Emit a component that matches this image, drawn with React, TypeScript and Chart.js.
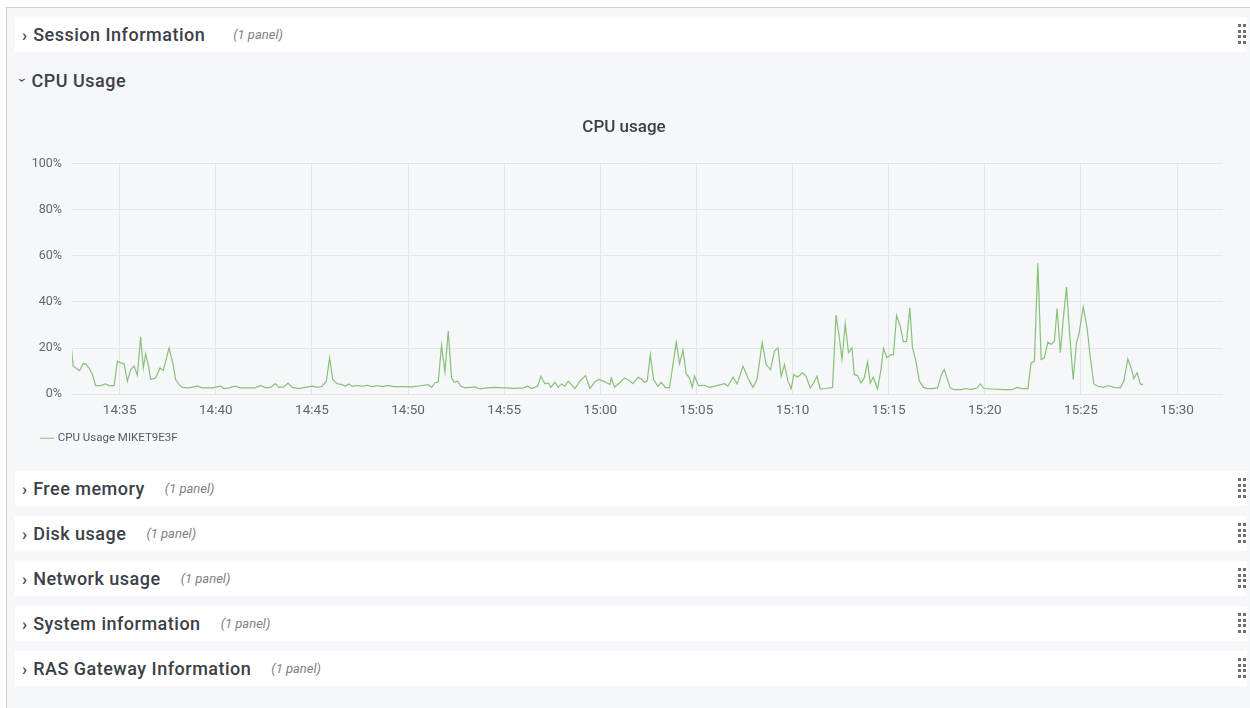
import React, { useEffect, useRef } from "react";
import { Chart, registerables } from "chart.js";

Chart.register(...registerables);

// Time in minutes after 14:00
const times = [
  32.44, 32.58, 32.75, 32.92, 33.1, 33.23, 33.41, 33.58, 33.75, 34.01, 34.27, 34.45, 34.71, 34.88, 35.05, 35.23, 35.4, 35.57, 35.75, 35.92,
  36.09, 36.23, 36.35, 36.49, 36.61, 36.87, 37.1, 37.27, 37.57, 37.78, 37.91, 38.09, 38.26, 38.61, 39.04, 39.3, 39.82, 40.25, 40.43, 40.69,
  41.03, 41.29, 41.54, 42.06, 42.32, 42.58, 42.84, 43.1, 43.27, 43.53, 43.76, 43.97, 44.31, 44.66, 45.01, 45.27, 45.53, 45.75, 45.92, 46.08,
  46.31, 46.57, 46.74, 46.91, 47.09, 47.35, 47.61, 47.87, 48.13, 48.39, 48.65, 48.96, 49.25, 49.69, 50.21, 50.55, 51.05, 51.22, 51.4, 51.57,
  51.74, 51.92, 52.09, 52.26, 52.4, 52.58, 52.75, 52.96, 53.48, 53.74, 54.08, 54.52, 55.04, 55.56, 55.99, 56.22, 56.42, 56.74, 56.91, 57.12,
  57.29, 57.43, 57.64, 57.81, 57.98, 58.16, 58.33, 58.5, 58.68, 58.94, 59.23, 59.46, 59.72, 59.93, 60.24, 60.5, 60.57, 60.74, 61.0, 61.26,
  61.52, 61.7, 61.96, 62.17, 62.3, 62.44, 62.6, 62.77, 63.0, 63.17, 63.38, 63.6, 63.78, 63.95, 64.12, 64.3, 64.47, 64.64, 64.78, 64.9,
  65.11, 65.42, 65.68, 66.12, 66.46, 66.64, 66.9, 67.12, 67.42, 67.68, 67.94, 68.15, 68.42, 68.63, 68.85, 69.06, 69.24, 69.41, 69.58, 69.76,
  69.93, 70.07, 70.26, 70.52, 70.7, 70.92, 71.09, 71.27, 71.44, 71.74, 72.08, 72.26, 72.43, 72.57, 72.74, 72.91, 73.09, 73.21, 73.38, 73.56,
  73.73, 73.9, 74.04, 74.2, 74.42, 74.6, 74.73, 74.91, 75.12, 75.25, 75.41, 75.6, 75.76, 75.93, 76.1, 76.24, 76.42, 76.59, 76.81, 77.02,
  77.28, 77.54, 77.75, 77.89, 78.03, 78.2, 78.41, 78.76, 79.02, 79.28, 79.6, 79.77, 79.95, 80.29, 80.99, 81.42, 81.68, 81.94, 82.24, 82.41,
  82.58, 82.76, 82.93, 83.1, 83.28, 83.45, 83.62, 83.76, 83.93, 84.07, 84.25, 84.42, 84.6, 84.77, 84.89, 85.12, 85.32, 85.49, 85.67, 85.88,
  86.19, 86.41, 86.71, 87.05, 87.23, 87.44, 87.61, 87.75, 87.92, 88.09, 88.23,
];

// CPU usage in percent
const cpuUsage = [
  24.2, 12.2, 11.2, 10.3, 13.3, 13.2, 11.4, 8.6, 3.8, 3.8, 4.5, 3.8, 3.8, 14.3, 13.6, 13.2, 5.7, 10.7, 12.2, 8.3,
  24.8, 11.4, 17.5, 12.6, 6.4, 7.1, 11.4, 10.3, 20.1, 12.9, 6.4, 4.2, 3.0, 2.8, 3.5, 2.8, 2.8, 3.5, 2.5, 2.8,
  3.5, 2.8, 2.8, 2.8, 3.8, 2.8, 3.0, 4.6, 3.0, 3.2, 4.9, 3.0, 2.5, 3.0, 3.5, 3.0, 3.5, 5.7, 15.8, 6.4,
  4.6, 4.2, 3.5, 4.5, 3.5, 3.8, 3.5, 3.9, 3.3, 3.8, 3.3, 3.9, 3.3, 3.3, 3.2, 3.6, 4.2, 3.0, 4.9, 5.4,
  21.2, 9.7, 27.4, 7.1, 5.2, 5.7, 3.5, 2.8, 3.2, 2.3, 2.8, 3.0, 2.8, 2.6, 2.8, 3.5, 2.5, 3.5, 7.8, 4.5,
  4.9, 3.0, 5.2, 3.0, 4.5, 3.5, 5.7, 4.2, 2.5, 5.7, 8.1, 2.5, 5.4, 6.4, 5.4, 4.2, 7.1, 3.2, 4.9, 7.1,
  5.9, 4.6, 7.4, 6.4, 5.2, 5.7, 17.2, 6.4, 3.5, 5.2, 3.0, 2.8, 12.9, 22.6, 13.2, 19.0, 8.8, 7.1, 3.0, 7.8,
  3.8, 3.9, 3.0, 3.9, 4.6, 3.5, 7.4, 4.5, 12.2, 7.1, 3.0, 6.4, 22.3, 12.9, 10.7, 18.7, 20.1, 7.8, 12.9, 5.7,
  2.5, 8.6, 7.4, 9.3, 7.8, 2.8, 4.9, 7.8, 2.3, 2.5, 3.0, 34.3, 24.8, 15.1, 30.6, 18.0, 20.1, 8.6, 8.1, 4.9,
  7.1, 13.9, 4.9, 7.4, 2.3, 10.7, 19.9, 15.8, 17.2, 17.2, 34.2, 29.6, 22.8, 22.8, 37.5, 20.1, 14.3, 5.9, 3.0, 2.5,
  2.5, 2.8, 8.6, 10.7, 7.1, 2.8, 2.0, 2.0, 2.5, 2.0, 2.8, 4.5, 2.5, 2.3, 2.0, 2.0, 3.0, 2.5, 2.5, 13.6,
  14.3, 56.7, 15.1, 15.8, 22.6, 21.6, 23.0, 37.1, 18.0, 31.7, 46.5, 25.2, 6.4, 22.3, 25.9, 37.8, 28.8, 15.8, 4.5, 3.5,
  3.0, 3.8, 3.0, 2.8, 5.7, 15.4, 11.4, 6.8, 9.3, 4.5, 4.2,
];

const xTicks = [35, 40, 45, 50, 55, 60, 65, 70, 75, 80, 85, 90];
const yTicks = [0, 20, 40, 60, 80, 100];
const xMin = 32.52;
const xMax = 92.39;
const seriesName = "CPU Usage MIKET9E3F";
const chartTitle = "CPU usage";

const collapsedRows = [
  "Free memory",
  "Disk usage",
  "Network usage",
  "System information",
  "RAS Gateway Information",
];

const FONT = "Roboto, 'Noto Sans', sans-serif";
const TEXT = "#3b4048";

function fmtTime(v: number) {
  const h = 14 + Math.floor(v / 60);
  const m = Math.round(v % 60);
  return `${h}:${m < 10 ? "0" + m : m}`;
}

function DragIcon({ top }: { top: number }) {
  const dots = [];
  for (let r = 0; r < 4; r++) {
    for (let c = 0; c < 2; c++) {
      dots.push(
        <div
          key={`${r}-${c}`}
          style={{
            position: "absolute",
            left: c * 5,
            top: r * 5.5,
            width: 3,
            height: 3,
            background: "#707070",
          }}
        />
      );
    }
  }
  return <div style={{ position: "absolute", left: 1238, top, width: 8, height: 22 }}>{dots}</div>;
}

function Row({ top, title, gap }: { top: number; title: string; gap: number }) {
  return (
    <>
      <div
        style={{
          position: "absolute",
          left: 15,
          top,
          width: 1232,
          height: 35,
          background: "#ffffff",
          display: "flex",
          alignItems: "center",
          fontFamily: FONT,
        }}
      >
        <span style={{ marginLeft: 7, fontSize: 17, color: TEXT, fontWeight: 500 }}>›</span>
        <span style={{ marginLeft: 6, fontSize: 18, color: TEXT, fontWeight: 500, letterSpacing: 0.5 }}>{title}</span>
        <span style={{ marginLeft: gap, fontSize: 13, color: "#7d8187", fontStyle: "italic" }}>(1 panel)</span>
      </div>
      <DragIcon top={top + 7} />
    </>
  );
}

const boxShift = {
  id: "boxShift",
  afterLayout(chart: any) {
    if (chart.legend) chart.legend.left += 21;
    if (chart.titleBlock) {
      chart.titleBlock.left += 5;
      chart.titleBlock.right += 5;
    }
  },
};

export default function App() {
  const canvasRef = useRef<HTMLCanvasElement | null>(null);

  useEffect(() => {
    if (!canvasRef.current) return;
    const data = times.map((t, i) => ({ x: t, y: cpuUsage[i] }));
    const chart = new Chart(canvasRef.current, {
      type: "line",
      data: {
        datasets: [
          {
            label: seriesName,
            data,
            borderColor: "#89c078",
            backgroundColor: "#89c078",
            borderWidth: 1.2,
            pointRadius: 0,
            tension: 0,
          },
        ],
      },
      plugins: [boxShift],
      options: {
        animation: false,
        responsive: false,
        maintainAspectRatio: false,
        layout: { padding: { right: 37, left: 0, top: 0, bottom: 0 } },
        plugins: {
          title: {
            display: true,
            text: chartTitle,
            color: "#3b4048",
            font: { family: FONT, size: 17, weight: "500" as any },
            padding: { top: 10, bottom: 25 },
          },
          legend: {
            display: true,
            position: "bottom",
            align: "start",
            labels: {
              usePointStyle: true,
              pointStyle: "line",
              boxWidth: 10,
              boxHeight: 10,
              color: "#555a60",
              padding: 6,
              font: { family: FONT, size: 11.5 },
            },
          },
          tooltip: { enabled: false },
        },
        scales: {
          x: {
            type: "linear",
            min: xMin,
            max: xMax,
            afterBuildTicks: (scale: any) => {
              scale.ticks = xTicks.map((v) => ({ value: v }));
            },
            ticks: {
              callback: (v: any) => fmtTime(Number(v)),
              color: "#62666c",
              font: { family: FONT, size: 13.5 },
              padding: 8,
              maxRotation: 0,
              autoSkip: false,
            },
            grid: { color: "#e4e5e8", drawTicks: false },
            border: { display: false },
          },
          y: {
            min: 0,
            max: 100,
            afterBuildTicks: (scale: any) => {
              scale.ticks = yTicks.map((v) => ({ value: v }));
            },
            afterFit: (scale: any) => {
              scale.width = 57;
            },
            ticks: {
              callback: (v: any) => `${v}%`,
              color: "#62666c",
              font: { family: FONT, size: 12.5 },
              padding: 10,
            },
            grid: { color: "#e4e5e8", drawTicks: false },
            border: { display: false },
          },
        },
      },
    });
    return () => chart.destroy();
  }, []);

  return (
    <div
      style={{
        position: "fixed",
        left: 0,
        top: 0,
        width: 1250,
        height: 708,
        background: "#ffffff",
        overflow: "hidden",
        fontFamily: FONT,
      }}
    >
      <div
        style={{
          position: "absolute",
          left: 6,
          top: 7,
          width: 1250,
          height: 710,
          borderTop: "1px solid #cfd0d3",
          borderLeft: "1px solid #cfd0d3",
          background: "#f6f7fa",
        }}
      />
      <Row top={17} title="Session Information" gap={28} />
      <div
        style={{
          position: "absolute",
          left: 21,
          top: 68,
          display: "flex",
          alignItems: "center",
          height: 24,
          color: TEXT,
          fontWeight: 500,
        }}
      >
        <span style={{ fontSize: 15, display: "inline-block", transform: "rotate(90deg)" }}>›</span>
        <span style={{ marginLeft: 6, fontSize: 18, letterSpacing: 0.5 }}>CPU Usage</span>
      </div>
      <canvas
        ref={canvasRef}
        width={1245}
        height={346}
        style={{ position: "absolute", left: 15, top: 108, width: 1245, height: 346 }}
      />
      {collapsedRows.map((t, i) => (
        <Row key={t} top={471 + i * 45} title={t} gap={20} />
      ))}
    </div>
  );
}
